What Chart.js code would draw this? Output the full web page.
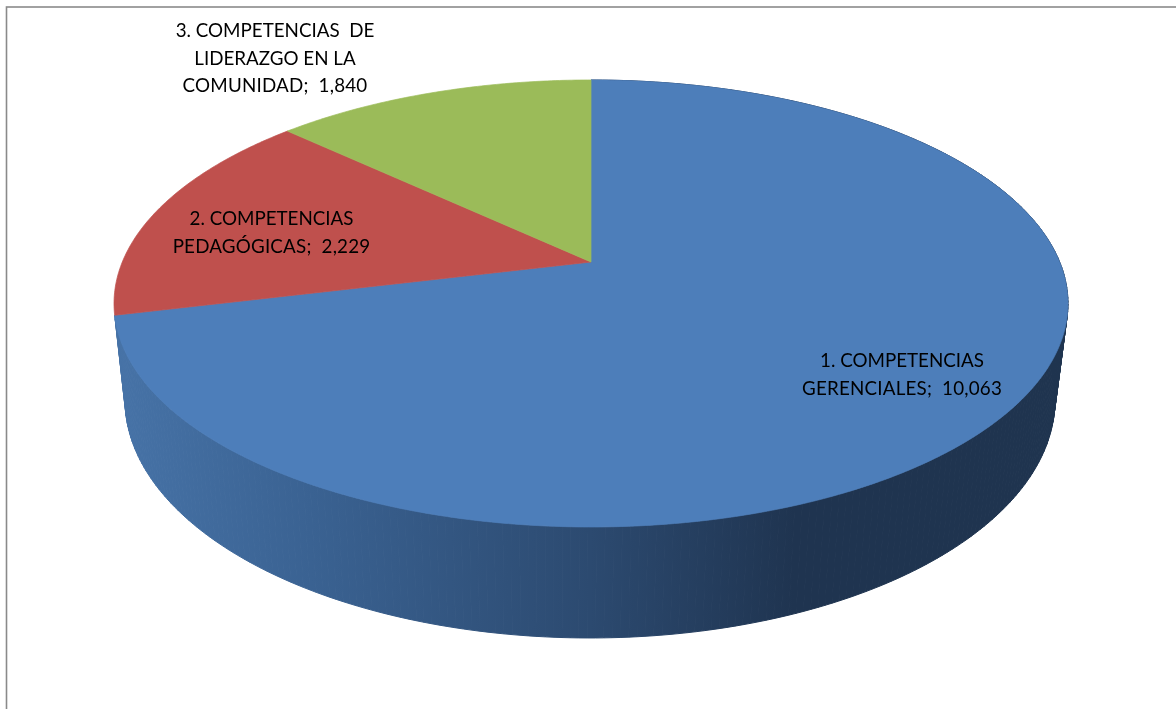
<!DOCTYPE html>
<html>
<head>
<meta charset="utf-8">
<title>Competencias</title>
<script src="https://cdn.jsdelivr.net/npm/chart.js@4"></script>
<style>
  html, body { margin: 0; padding: 0; background: #fff; overflow: hidden; }
  canvas { display: block; }
</style>
</head>
<body>
<canvas id="grafico" width="1176" height="709"></canvas>
<script>
const categorias = ['1. COMPETENCIAS GERENCIALES', '2. COMPETENCIAS PEDAGÓGICAS', '3. COMPETENCIAS  DE LIDERAZGO EN LA COMUNIDAD'];
const valores = [10063, 2229, 1840];
const colores = ['#4d7eba', '#bf504d', '#9bbb59'];

// Cada etiqueta se parte en líneas; el valor se añade al final de la última
const lineasEtiqueta = [
  ['1. COMPETENCIAS', 'GERENCIALES;'],
  ['2. COMPETENCIAS', 'PEDAGÓGICAS;'],
  ['3. COMPETENCIAS  DE', 'LIDERAZGO EN LA', 'COMUNIDAD;']
];

// Proyección en perspectiva del disco: tapa superior y borde inferior
const tapa = { cx: 591, cy: 262, a: 468.7, b: 215.8 };
const base = { cx: 590, cy: 355.8, a: 456.9, b: 229.8 };
const fuga = -0.1856;

// Centro y primera línea de cada etiqueta
const posEtiqueta = [
  { x: 902, y: 361 },
  { x: 271.5, y: 219 },
  { x: 275, y: 31 }
];

function proyectar(disco, angulo){
  // angulo viene de Chart.js: 0 apunta a la derecha y crece en sentido horario
  const u = Math.cos(angulo);
  const v = Math.sin(angulo);
  const d = 1 + fuga * v;
  return { x: disco.cx + disco.a * u / d, y: disco.cy + disco.b * v / d };
}

function trazarBorde(ctx, disco, desde, hasta){
  const pasos = Math.max(2, Math.ceil((hasta - desde) / 0.01));
  for (let i = 0; i <= pasos; i++){
    const p = proyectar(disco, desde + (hasta - desde) * i / pasos);
    ctx.lineTo(p.x, p.y);
  }
}

function gradienteLateral(ctx){
  const g = ctx.createLinearGradient(125, 0, 1055, 0);
  g.addColorStop(0, '#4672a6');
  g.addColorStop(0.2, '#3a6292');
  g.addColorStop(0.5, '#2c4a70');
  g.addColorStop(0.72, '#1f3450');
  g.addColorStop(1, '#1f344f');
  return g;
}

const pastel3d = {
  id: 'pastel3d',
  beforeDraw(chart){
    const ctx = chart.ctx;
    ctx.save();
    ctx.fillStyle = '#fff';
    ctx.fillRect(0, 0, chart.width, chart.height);
    ctx.strokeStyle = '#8a8a8a';
    ctx.lineWidth = 1.6;
    ctx.strokeRect(6.5, 7, chart.width + 20, chart.height + 20);
    ctx.restore();
  },
  // Los arcos salen del controlador de Chart.js; aquí solo se proyectan
  beforeDatasetDraw(chart){
    const ctx = chart.ctx;
    const arcos = chart.getDatasetMeta(0).data;
    ctx.save();

    // Cara lateral, solo para las porciones que miran hacia delante.
    // Se pinta por tiras con trazo del mismo gradiente para que no queden juntas.
    const lateral = gradienteLateral(ctx);
    ctx.fillStyle = lateral;
    ctx.strokeStyle = lateral;
    ctx.lineWidth = 1;
    ctx.lineJoin = 'round';
    arcos.forEach(arco => {
      const medio = (arco.startAngle + arco.endAngle) / 2;
      if (Math.sin(medio) <= 0) return;
      const tiras = 300;
      const paso = (arco.endAngle - arco.startAngle) / tiras;
      for (let i = 0; i < tiras; i++){
        const a0 = arco.startAngle + paso * i;
        const a1 = a0 + paso;
        const p0 = proyectar(tapa, a0), p1 = proyectar(tapa, a1);
        const q0 = proyectar(base, a0), q1 = proyectar(base, a1);
        ctx.beginPath();
        ctx.moveTo(p0.x, p0.y);
        ctx.lineTo(p1.x, p1.y);
        ctx.lineTo(q1.x, q1.y);
        ctx.lineTo(q0.x, q0.y);
        ctx.closePath();
        ctx.fill();
        ctx.stroke();
      }
    });

    // Tapa superior
    ctx.lineWidth = 0.7;
    arcos.forEach(arco => {
      ctx.beginPath();
      ctx.moveTo(tapa.cx, tapa.cy);
      trazarBorde(ctx, tapa, arco.startAngle, arco.endAngle);
      ctx.closePath();
      ctx.fillStyle = arco.options.backgroundColor;
      ctx.strokeStyle = arco.options.backgroundColor;
      ctx.fill();
      ctx.stroke();
    });
    ctx.restore();
    return false;
  },
  afterDatasetsDraw(chart){
    const ctx = chart.ctx;
    ctx.save();
    ctx.font = '18.8px Lato, "Open Sans", sans-serif';
    ctx.fillStyle = '#000';
    ctx.textAlign = 'center';
    ctx.textBaseline = 'middle';
    lineasEtiqueta.forEach((lineas, i) => {
      const valor = valores[i].toLocaleString('en-US');
      lineas.forEach((linea, j) => {
        const ultima = j === lineas.length - 1;
        // La separación antes del valor es más ancha que un espacio normal
        ctx.wordSpacing = ultima ? '5px' : '0px';
        ctx.letterSpacing = ultima ? '0.2px' : '0px';
        ctx.fillText(ultima ? linea + ' ' + valor : linea, posEtiqueta[i].x, posEtiqueta[i].y + j * 27.7);
      });
    });
    ctx.restore();
  }
};

new Chart(document.getElementById('grafico'), {
  type: 'pie',
  data: {
    labels: categorias,
    datasets: [{ data: valores, backgroundColor: colores, borderWidth: 0 }]
  },
  options: {
    responsive: false,
    animation: false,
    rotation: 0,
    plugins: { legend: { display: false }, tooltip: { enabled: false } }
  },
  plugins: [pastel3d]
});
</script>
</body>
</html>
